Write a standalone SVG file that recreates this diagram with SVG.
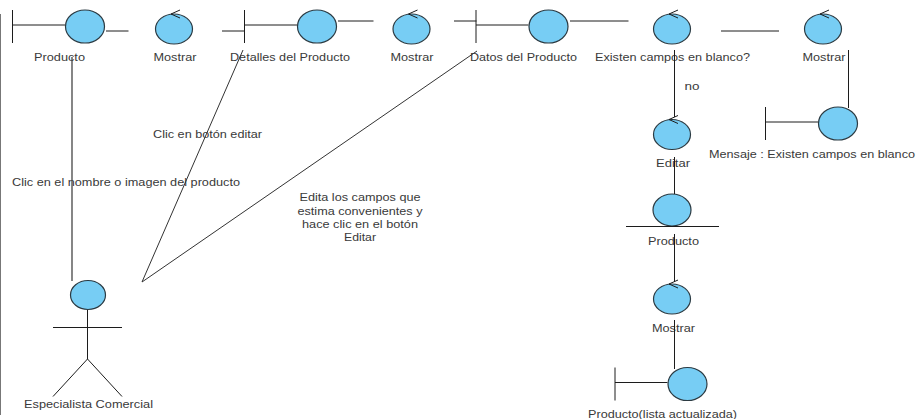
<svg xmlns="http://www.w3.org/2000/svg" width="922" height="419" viewBox="0 0 922 419">
<defs>
<style>
text{font-family:"Liberation Sans",Arial,sans-serif;font-size:11px;fill:#3a3a3a;text-anchor:middle}
.s{stroke:#1c1c1c;stroke-width:1;fill:none}
.b{fill:#77cdf4;stroke:#2b3a42;stroke-width:1.2}
</style>
<g id="ctl"><ellipse class="b" cx="0" cy="0" rx="18.500" ry="15"/><path class="s" d="M6 -11 L-3 -15 L6 -19"/></g>
<g id="bnd"><path class="s" d="M-72.500 -16.500V16.500M-72.500 -1.500H-20"/><ellipse class="b" cx="0" cy="0" rx="19.500" ry="16.500"/></g>
</defs>
<rect width="922" height="419" fill="#fff"/>
<g id="n-producto"><use href="#bnd" x="85" y="26.500"/><text x="59.500" y="61" textLength="51" lengthAdjust="spacingAndGlyphs">Producto</text></g>
<g id="n-mostrar1"><use href="#ctl" x="174" y="29"/><text x="175" y="61" textLength="43" lengthAdjust="spacingAndGlyphs">Mostrar</text></g>
<g id="n-detalles"><use href="#bnd" x="317" y="26.500"/><text x="290" y="61" textLength="120" lengthAdjust="spacingAndGlyphs">Detalles del Producto</text></g>
<g id="n-mostrar2"><use href="#ctl" x="411.500" y="29"/><text x="412" y="61" textLength="43" lengthAdjust="spacingAndGlyphs">Mostrar</text></g>
<g id="n-datos"><use href="#bnd" x="548.500" y="26.500"/><text x="523.500" y="61" textLength="107" lengthAdjust="spacingAndGlyphs">Datos del Producto</text></g>
<g id="n-existen"><use href="#ctl" x="672" y="29"/><text x="672.500" y="61" textLength="155" lengthAdjust="spacingAndGlyphs">Existen campos en blanco?</text></g>
<g id="n-mostrar3"><use href="#ctl" x="823" y="29"/><text x="824" y="61" textLength="43" lengthAdjust="spacingAndGlyphs">Mostrar</text></g>
<g id="n-mensaje"><use href="#bnd" x="838" y="123.500"/><text x="812" y="158" textLength="206" lengthAdjust="spacingAndGlyphs">Mensaje : Existen campos en blanco</text></g>
<g id="n-editar"><use href="#ctl" x="672" y="134.500"/><text x="673" y="167" textLength="34" lengthAdjust="spacingAndGlyphs">Editar</text></g>
<g id="n-producto2"><ellipse class="b" cx="672" cy="210" rx="19" ry="16"/><path class="s" d="M626 226.500H719"/><text x="673.500" y="245" textLength="51" lengthAdjust="spacingAndGlyphs">Producto</text></g>
<g id="n-mostrar4"><use href="#ctl" x="672" y="299"/><text x="673.500" y="332" textLength="43" lengthAdjust="spacingAndGlyphs">Mostrar</text></g>
<g id="n-lista"><use href="#bnd" x="687.500" y="384"/><text x="662.500" y="418" textLength="149" lengthAdjust="spacingAndGlyphs">Producto(lista actualizada)</text></g>
<g id="n-actor"><ellipse class="b" cx="88" cy="295" rx="17.500" ry="14.500"/><path class="s" d="M87.500 310V359M53 327.500H122M53 396.500L87.500 359L122 396.500"/><text x="88.500" y="408" textLength="129" lengthAdjust="spacingAndGlyphs">Especialista Comercial</text></g>
<g id="labels">
<text x="207.500" y="138" textLength="109" lengthAdjust="spacingAndGlyphs">Clic en botón editar</text>
<text x="126" y="186" textLength="228" lengthAdjust="spacingAndGlyphs">Clic en el nombre o imagen del producto</text>
<text x="692" y="90" textLength="15" lengthAdjust="spacingAndGlyphs">no</text>
<text x="360" y="201" textLength="121" lengthAdjust="spacingAndGlyphs">Edita los campos que</text>
<text x="360" y="214.500" textLength="125" lengthAdjust="spacingAndGlyphs">estima convenientes y</text>
<text x="360" y="228" textLength="116" lengthAdjust="spacingAndGlyphs">hace clic en el botón</text>
<text x="360" y="241" textLength="32" lengthAdjust="spacingAndGlyphs">Editar</text>
</g>
<g id="connectors" class="s">
<path d="M0.500 14V415" stroke="#777"/>
<path d="M106 31H128.500M222 31H244.500M338 21H373.500M454 21H476.500M570 21H628.500M721 31H779"/>
<path d="M848.500 50V108M674.500 50V117M674.500 157V194M674.500 234V282M674.500 320V369"/>
<path d="M72 57V281" stroke="#444" stroke-width="1.300"/>
<path d="M142 282L243 50M142 282L477 51" stroke="#333"/>
</g>
</svg>
